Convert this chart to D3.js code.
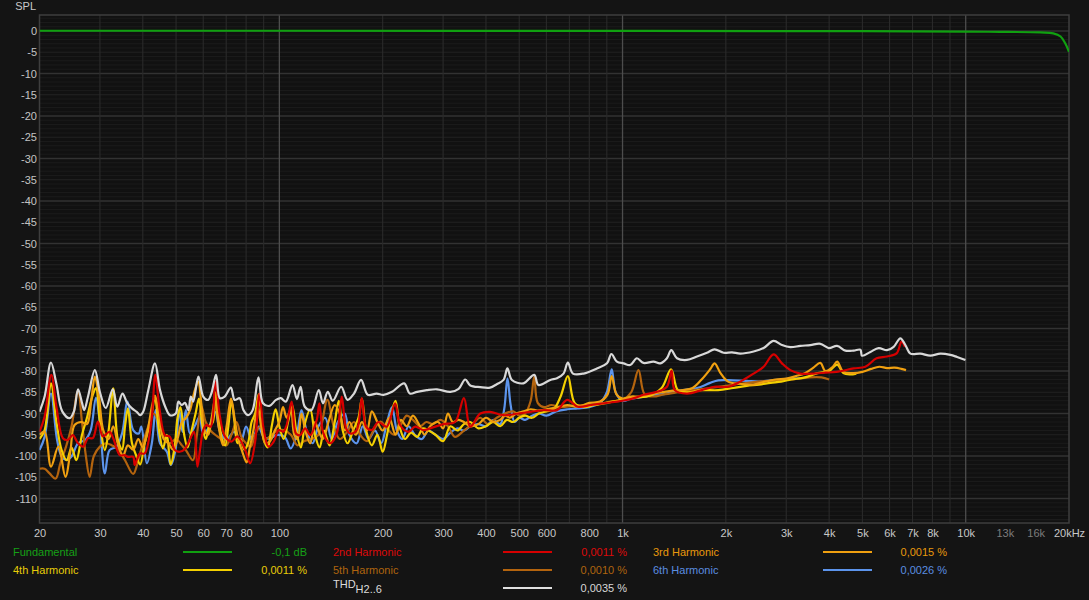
<!DOCTYPE html>
<html><head><meta charset="utf-8">
<script src="https://cdn.jsdelivr.net/npm/d3@7"></script>
<style>
html,body{margin:0;padding:0;background:#141414;}
svg{display:block;font-family:"Liberation Sans",Arial,sans-serif;}
</style></head><body>
<svg id="c" width="1089" height="600"></svg>
<script>
// ---------- axis data ----------
const xTickValues = [20,30,40,50,60,70,80,100,200,300,400,500,600,800,1000,2000,3000,4000,5000,6000,7000,8000,10000,13000,16000,20000];
const xTickLabels = ["20","30","40","50","60","70","80","100","200","300","400","500","600","800","1k","2k","3k","4k","5k","6k","7k","8k","10k","13k","16k","20kHz"];
const yTickValues = [0,-5,-10,-15,-20,-25,-30,-35,-40,-45,-50,-55,-60,-65,-70,-75,-80,-85,-90,-95,-100,-105,-110];

// ---------- series data [frequency Hz, dB] ----------
const fundamental = [[20,0.05],[100,0.05],[1000,0.02],[5000,-0.05],[10000,-0.15],[12600,-0.2],[16500,-0.35],[18000,-0.55],[18900,-1.3],[19500,-2.9],[20000,-4.9]];

const thd = [[20,-89.6],[20.7,-86],[21.6,-78.0],[22.4,-83],[23.3,-89.5],[24.5,-91.1],[25.2,-89.5],[25.9,-84.3],[26.6,-87.5],[27.0,-89.2],[27.7,-86],[29.0,-79.8],[30.0,-85],[31.2,-88.7],[32.7,-84.3],[33.7,-88.4],[34.9,-85.3],[36.0,-87.5],[37.2,-88.8],[38.4,-89.6],[39.3,-90.4],[40.1,-89.6],[41.5,-84.5],[43.4,-78.2],[44.9,-84.5],[46.5,-88.4],[48.0,-90.4],[49.9,-90.0],[50.8,-87.2],[51.9,-88],[53.1,-87.5],[54.3,-89.2],[55.2,-86.0],[56.1,-87.2],[58.1,-81.3],[60.0,-86.0],[62.0,-86.8],[63.5,-85],[65.4,-80.9],[67.1,-86.4],[69.3,-86.0],[72.2,-83.9],[74.1,-86.8],[76.6,-86.4],[78.6,-89.2],[81.1,-90.4],[83.6,-89.2],[86.9,-81.5],[89.6,-87.6],[93.6,-88.2],[97.8,-86.8],[101,-86.4],[104.4,-87.2],[109.2,-83.3],[112.5,-86.6],[115.3,-83.7],[118.6,-88.4],[124,-89.2],[130.3,-84.5],[134,-87.6],[138.4,-84.9],[143.1,-87.0],[151.4,-83.7],[158,-86.8],[165,-85.3],[173,-82.1],[181,-85.6],[192,-85.3],[201,-85.6],[213,-84.9],[231,-82.9],[240,-85.3],[252,-84.9],[269,-84.5],[288,-84.3],[315,-84.9],[333,-84.2],[348,-82.0],[360,-83.4],[385,-83.8],[411,-83.9],[430,-83.1],[450,-82.1],[462,-79.4],[476,-82.1],[514,-82.9],[553,-80.9],[569,-83.3],[616,-82.1],[644,-81.7],[673,-80.6],[693,-78.0],[717,-80.6],[770,-80.6],[842,-79.4],[901,-78.2],[928,-76.0],[963,-77.8],[1007,-78.2],[1053,-78.6],[1101,-77.0],[1151,-78.1],[1231,-77.8],[1288,-78.2],[1347,-77.0],[1387,-75.1],[1441,-77.0],[1541,-77.4],[1648,-76.6],[1762,-75.7],[1854,-74.9],[1970,-75.7],[2084,-75.6],[2203,-75.9],[2410,-75.4],[2577,-74.6],[2755,-72.9],[2915,-73.9],[3083,-74.4],[3296,-74.1],[3526,-73.9],[3771,-73.6],[3987,-74.6],[4219,-74.1],[4461,-75.2],[4716,-75.2],[4932,-75.0],[4989,-76.4],[5276,-75.5],[5578,-74.6],[5899,-75.1],[6167,-74.3],[6449,-72.3],[6672,-73.9],[6900,-75.9],[7378,-75.9],[7889,-76.4],[8437,-75.9],[9023,-76.2],[9438,-76.7],[9980,-77.4]];

const h2 = [[20,-94.3],[20.7,-90.7],[21.65,-80.9],[22.4,-88.4],[23.4,-95.8],[24.2,-96.2],[25.0,-95.1],[25.9,-97.0],[26.8,-97.8],[27.7,-95.8],[28.6,-95.8],[29.6,-91.9],[30.6,-95.4],[32.0,-94.3],[32.8,-95.8],[34.3,-99.8],[35.4,-99.8],[36.2,-100.2],[37.5,-100.2],[37.9,-102.1],[39.2,-99.4],[40.5,-99.4],[42.4,-91.5],[43.5,-80.9],[44.8,-89.2],[46.4,-95.1],[47.9,-95.4],[49.6,-98.6],[51.2,-99.0],[53.0,-98.4],[54.8,-96.2],[56.4,-94.3],[57.7,-102.5],[58.7,-98.6],[60.0,-93.9],[61.3,-92.7],[63.1,-93.1],[65.1,-82.5],[67.1,-90.7],[69.4,-95.4],[72.5,-96.6],[75.5,-95.4],[79.5,-98.6],[82.2,-101.7],[85,-96.6],[87.5,-85.3],[89.9,-93.5],[93,-97.8],[96.3,-96.6],[99.6,-93.9],[102.7,-94.3],[105,-92.7],[108.6,-87.2],[111.8,-94.7],[114.9,-95.1],[118.9,-93.5],[123,-95.1],[128.5,-91.5],[130.8,-87.6],[134.4,-94.7],[140.6,-97.0],[147,-94.7],[152,-86.0],[156.5,-93.5],[160.8,-94.7],[168,-93.9],[173.9,-86.4],[178.9,-93.1],[185.8,-93.9],[194.3,-92],[205.6,-93.1],[217.4,-87.6],[224.8,-92.7],[237.8,-94.3],[248.8,-93.1],[262.9,-93.9],[275,-93.5],[300,-92.5],[325,-92],[345,-86.4],[360,-93.1],[385,-90.0],[411,-89.6],[450,-90.4],[497,-90.0],[540,-89.6],[590,-89.2],[644,-89.2],[690,-86.8],[741,-88.4],[810,-88.0],[880,-87.6],[963,-87.2],[1000,-87],[1100,-86.2],[1150,-85.6],[1260,-84.9],[1347,-83.7],[1390,-79.9],[1420,-84.5],[1541,-85.3],[1700,-84.5],[1850,-83.7],[2030,-83.7],[2203,-82.5],[2410,-80.6],[2577,-79.0],[2755,-76.1],[2915,-78.2],[3083,-79.8],[3296,-80.6],[3600,-80.6],[3900,-80.4],[4200,-80.2],[4716,-79.4],[5100,-79.0],[5500,-77.0],[5899,-76.6],[6300,-75.8],[6500,-73.1],[6650,-74.3]];

const h3 = [[20,-95],[20.7,-94.3],[21.6,-102.5],[22.7,-97.8],[23.8,-104.9],[24.6,-99],[25.3,-92.7],[26.5,-92],[27.5,-92.5],[28.3,-87],[29.0,-81.3],[29.8,-86],[30.7,-94],[31.8,-96],[32.8,-93],[33.8,-97],[35,-100],[36.2,-97.5],[37.5,-98.5],[38.8,-96],[40,-98],[41.3,-94],[42.6,-88],[43.4,-85.8],[44.5,-90],[46,-96],[47.5,-97],[49,-98.5],[50.5,-96],[52,-92],[53.5,-91],[55,-89],[56.5,-85],[58,-82.5],[59.3,-88],[60.6,-94],[62,-95],[63.5,-91],[65,-86.5],[66.5,-93],[68.5,-97.5],[70.2,-93],[72.3,-86.5],[74,-91],[75.8,-96],[78,-99],[80.3,-101.5],[82,-98],[84,-94],[86.5,-88.5],[88.5,-93],[91,-97],[94,-96.5],[97,-94],[100,-92],[102.5,-88.5],[105,-91],[108,-89],[110.5,-95],[113,-96],[116,-90],[119,-94],[123,-97],[127,-92],[130,-94],[134,-96],[139,-92],[145,-88],[150,-90],[155,-94],[160,-92],[167,-95],[174,-92],[180,-94],[186,-89.5],[193,-92],[200,-94],[209,-91],[218,-95],[226,-91.5],[235,-93],[245,-90.5],[255,-92.5],[265,-95],[275,-93],[290,-92],[300,-93.5],[310,-90],[320,-92],[333,-91.5],[345,-92],[360,-93],[380,-92.5],[400,-91],[420,-92],[440,-91.5],[455,-90.5],[470,-91],[490,-90],[515,-89.5],[540,-89],[565,-89.3],[600,-89],[640,-88.6],[690,-88],[740,-88.4],[800,-87.5],[860,-87.2],[905,-85.5],[930,-81.2],[960,-85.5],[1000,-86.5],[1060,-86],[1120,-86],[1200,-85.5],[1300,-85],[1400,-84.6],[1500,-84.5],[1600,-84],[1700,-82],[1800,-79.6],[1855,-78.2],[1930,-80.5],[2030,-82.5],[2200,-83],[2400,-83.2],[2600,-82.5],[2800,-82],[3000,-81.8],[3200,-81.2],[3400,-80.5],[3600,-79.2],[3770,-78.1],[3900,-80],[4100,-79],[4220,-77.8],[4400,-80.2],[4700,-80.5],[5000,-80.2],[5300,-79.5],[5600,-79.0],[5900,-79.3],[6200,-79.2],[6500,-79.5],[6700,-79.8]];

const h4 = [[20,-96],[20.7,-93.9],[21.6,-82.9],[22.4,-92],[23.2,-98.6],[24,-101],[24.8,-98],[25.6,-101],[26.6,-95],[27.5,-91],[28.5,-86],[29.2,-84],[30,-92],[31,-98.6],[31.8,-94],[32.8,-84.1],[33.8,-96],[34.8,-98.5],[35.5,-93],[36.2,-88.8],[37.2,-97],[38.3,-100],[39.3,-102],[40.5,-97],[41.8,-93],[43.4,-86.8],[44.6,-94],[45.8,-98.2],[47,-95],[48.2,-102],[49.5,-98],[50.5,-91],[51.5,-88.5],[52.8,-95],[54,-98],[55.5,-94],[57,-90],[58.3,-86.5],[59.5,-92],[61,-96],[62.5,-93],[64,-92],[65.2,-85],[66.5,-90],[68,-96],[69.5,-97.5],[71,-93],[72.5,-87],[74,-92],[75.5,-97],[77,-96],[79,-98.5],[81,-97],[83,-92],[85,-90],[87,-85.5],[88.5,-90],[90,-96],[92.5,-98],[95,-93],[97.5,-89],[100,-93],[103,-96],[106,-92],[109,-88],[112,-94],[115.5,-98],[119,-92],[123,-89],[127,-95],[131,-98],[135,-94],[140,-97.5],[145,-92],[149,-87],[153,-94],[158,-97],[164,-94],[170,-91],[174,-86.5],[179,-94],[186,-97.5],[193,-95],[200,-99],[206,-95],[212,-90],[218,-87],[224,-93],[232,-96],[242,-94.5],[252,-95.5],[262,-93.5],[272,-94],[285,-95],[300,-96.5],[315,-93],[330,-94],[345,-92.5],[360,-92],[380,-93.5],[400,-93],[420,-92],[440,-93],[460,-91.5],[480,-92],[500,-91],[520,-90.5],[545,-91],[570,-90],[600,-89.5],[630,-89],[660,-86],[693,-81.2],[725,-87.5],[770,-88.5],[830,-88],[900,-87.5],[960,-87],[1020,-86.5],[1100,-86.2],[1200,-85.8],[1300,-84],[1385,-79.6],[1450,-84.5],[1550,-85],[1700,-84.5],[1900,-84.5],[2100,-84],[2300,-83.5],[2500,-83.2],[2700,-82.8],[2900,-82.5],[3100,-82],[3400,-81.5],[3700,-80.5],[4000,-80],[4220,-78.5],[4400,-80.5],[4600,-80.8],[4800,-80.6]];

const h5 = [[20,-103],[20.7,-103],[21.4,-104.1],[22.3,-105.3],[23.0,-101.7],[23.9,-97.8],[24.8,-93],[25.9,-84.7],[26.6,-92],[27.3,-100],[28.0,-104.9],[28.8,-100],[30,-97.8],[31.2,-97],[32.5,-97.5],[34,-98.5],[35.5,-101],[37.5,-104.2],[38.8,-101],[40,-97],[41.5,-93],[43,-90],[44.5,-92],[46,-95.5],[48,-97],[50,-96],[52,-97.5],[53.4,-98.6],[56,-101],[57.5,-95],[59.3,-88.4],[61,-92],[63,-94],[65,-95],[67.5,-96],[70,-97.5],[72.5,-95],[75,-92],[77.5,-95.5],[80,-97],[82.5,-97.8],[85,-95],[88,-93],[91,-96],[95,-95],[99,-94],[103,-93.9],[108,-95],[113,-97.5],[118,-96.5],[124,-96],[130,-95],[138,-86.8],[144,-93],[150,-96],[157,-94.5],[165,-92],[172,-95],[180,-96.5],[188,-94],[197,-91.9],[206,-93.5],[216,-95],[225,-93],[235,-90.5],[245,-91.5],[257,-93],[268,-92],[280,-92.5],[295,-91.5],[310,-93],[325,-95.5],[345,-94],[365,-92.5],[385,-91],[405,-92.5],[430,-91],[455,-90],[480,-89.5],[500,-90.5],[520,-90],[540,-87],[553,-81.3],[566,-87.5],[590,-88.5],[620,-88],[660,-88.5],[720,-88.2],[780,-88],[850,-87.8],[920,-87.2],[1000,-86.8],[1060,-85],[1113,-79.8],[1160,-85.5],[1230,-86],[1320,-85.5],[1450,-85],[1600,-84.5],[1800,-84],[2000,-83.5],[2200,-83],[2500,-82.5],[2800,-82.2],[3100,-82],[3500,-81.5],[3800,-81.5],[4000,-82]];

const h6 = [[20,-98.6],[20.7,-95.5],[21.6,-85.3],[22.5,-96.2],[23.2,-100.1],[23.9,-100.9],[24.8,-100.1],[25.9,-97],[27.2,-96.2],[28.2,-93.9],[29.2,-86.3],[30.0,-92.4],[31.0,-104.1],[32.0,-98.6],[33.5,-97.8],[34.8,-94.7],[36.1,-87.2],[37.5,-93.9],[38.9,-94.7],[39.6,-93.1],[41.1,-101.7],[42.5,-97],[43.6,-89.2],[44.9,-97],[47.0,-99],[48.3,-102.1],[49.8,-98.6],[51.1,-89.2],[52.2,-94.3],[53.4,-89.2],[54.9,-94.7],[56.9,-92.7],[58.6,-90.7],[60,-94.7],[62.1,-93.5],[65,-89.6],[67.2,-94.3],[70,-96.2],[73.8,-94.3],[77.2,-96.6],[80,-93.1],[83.1,-96.2],[87,-93.1],[90,-95.5],[94,-95.9],[97.8,-95.1],[103.6,-95.5],[107.9,-98.2],[112.5,-94.7],[116,-89.2],[120,-94],[125,-97],[130,-93],[136,-91],[142,-96],[148,-92],[155,-90],[160,-95],[168,-97],[175,-93],[182,-96],[190,-94],[198,-97],[206,-92],[213,-88.5],[220,-94],[228,-96],[238,-93],[248,-95],[260,-96],[272,-94],[285,-95],[300,-96],[315,-94.5],[330,-93.5],[345,-94],[360,-93],[380,-92.5],[400,-93],[420,-91.5],[440,-92.5],[452,-89],[462,-81.7],[472,-88],[485,-92],[500,-91],[520,-91.5],[545,-90.5],[570,-90],[600,-90.5],[640,-89.5],[690,-89],[740,-88.8],[800,-88.5],[860,-87.5],[900,-85],[930,-79.6],[955,-85],[1000,-87],[1060,-86.5],[1120,-86.2],[1200,-85.8],[1300,-85.5],[1400,-85],[1500,-84.5],[1650,-84],[1800,-82.8],[1900,-82.2],[2100,-82.2],[2300,-82.3],[2500,-82.5],[2700,-82.2],[2900,-82],[3100,-81.8],[3300,-81.7]];

// legend values
const legendNames = ["Fundamental","2nd Harmonic","3rd Harmonic","4th Harmonic","5th Harmonic","6th Harmonic","THD"];
const legendValues = ["-0,1 dB","0,0011 %","0,0015 %","0,0011 %","0,0010 %","0,0026 %","0,0035 %"];

// ---------- drawing ----------
const svg = d3.select("#c");
const W = 1089, H = 600;
const plot = {l:39.5, r:1069, t:15, b:523};
svg.append("rect").attr("width",W).attr("height",H).attr("fill","#141414");

const x = d3.scaleLog().domain([20,20000]).range([plot.l, plot.r]);
const y = d3.scaleLinear().domain([3.76,-115.76]).range([plot.t, plot.b]);

svg.append("rect").attr("x",plot.l).attr("y",plot.t).attr("width",plot.r-plot.l).attr("height",plot.b-plot.t).attr("fill","#111111");

const grid = svg.append("g");
for (let v = 3; v >= -115; v--) {
  const major = v % 10 === 0;
  const mid = v % 5 === 0;
  grid.append("line").attr("x1",plot.l).attr("x2",plot.r).attr("y1",y(v)).attr("y2",y(v))
    .attr("stroke", major ? "#323232" : (mid ? "#222222" : "#1b1b1b")).attr("stroke-width", major ? 1.3 : 1);
}
[10,100,1000,10000].forEach(dec => {
  for (let m = 1; m <= 9; m++) {
    const f = dec*m;
    if (f <= 20 || f >= 20000) continue;
    const major = (m === 1);
    grid.append("line").attr("x1",x(f)).attr("x2",x(f)).attr("y1",plot.t).attr("y2",plot.b)
      .attr("stroke", major ? "#4d4d4d" : "#2a2a2a").attr("stroke-width", major ? 1.3 : 1.1);
  }
});
svg.append("rect").attr("x",plot.l).attr("y",plot.t).attr("width",plot.r-plot.l).attr("height",plot.b-plot.t)
  .attr("fill","none").attr("stroke","#3e3e3e").attr("stroke-width",1.5);

const xAxis = d3.axisBottom(x).tickValues(xTickValues).tickFormat((d,i)=>xTickLabels[i]).tickSize(0).tickPadding(0);
const gx = svg.append("g").attr("transform",`translate(0,${plot.b+6})`).call(xAxis);
gx.select(".domain").remove();
gx.selectAll("text").attr("font-size","11px").attr("font-family","Liberation Sans, Arial, sans-serif")
  .attr("fill",(d)=> (d===13000||d===16000) ? "#7c7c7c" : "#c8c8c8").attr("dy","0.71em");

const yAxis = d3.axisLeft(y).tickValues(yTickValues).tickFormat(d=>String(d)).tickSize(0).tickPadding(0);
const gy = svg.append("g").attr("transform",`translate(${plot.l-2.5},0)`).call(yAxis);
gy.select(".domain").remove();
gy.selectAll("text").attr("font-size","11px").attr("font-family","Liberation Sans, Arial, sans-serif").attr("fill","#c4c4c4");

svg.append("text").attr("x",36).attr("y",10).attr("text-anchor","end").attr("font-size","11px").attr("fill","#c8c8c8").text("SPL");

svg.append("clipPath").attr("id","clip").append("rect").attr("x",plot.l).attr("y",plot.t).attr("width",plot.r-plot.l).attr("height",plot.b-plot.t);
const lines = svg.append("g").attr("clip-path","url(#clip)");
const line = d3.line().x(d=>x(d[0])).y(d=>y(d[1])).curve(d3.curveCatmullRom.alpha(0.5));

const series = [
  {data:h6, color:"#5c94ec"},
  {data:h5, color:"#b4640e"},
  {data:h4, color:"#f4d000"},
  {data:h3, color:"#f0a010"},
  {data:h2, color:"#d60000"},
  {data:thd, color:"#d8d8d8"},
  {data:fundamental, color:"#10a010"}
];
series.forEach(s => {
  lines.append("path").datum(s.data).attr("d",line).attr("fill","none")
    .attr("stroke",s.color).attr("stroke-width",2.2).attr("stroke-linejoin","round");
});

const legendColors = ["#16a016","#dd0a0a","#e8980c","#e8cc08","#b0640e","#5b8ee0","#d8d8d8"];
const lineColors   = ["#10a010","#d60000","#f0a010","#f4d000","#b4640e","#5c94ec","#e0e0e0"];
const cols = [{tx:13, lx1:183, lx2:232, vx:307},{tx:333, lx1:503, lx2:552, vx:627},{tx:653, lx1:823, lx2:872, vx:947}];
const rows = [552, 570, 588];
const pos = [[0,0],[0,1],[0,2],[1,0],[1,1],[1,2],[2,1]];
const lg = svg.append("g").attr("font-size","11px");
legendNames.forEach((name,i) => {
  const [r,c] = pos[i];
  const cy = rows[r], col = cols[c];
  if (name === "THD") {
    const t = lg.append("text").attr("x",col.tx).attr("y",cy).attr("fill","#dcdcdc");
    t.append("tspan").text("THD");
    t.append("tspan").attr("dy",5).text("H2..6");
  } else {
    lg.append("text").attr("x",col.tx).attr("y",cy+4).attr("fill",legendColors[i]).text(name);
  }
  lg.append("line").attr("x1",col.lx1).attr("x2",col.lx2).attr("y1",cy).attr("y2",cy)
    .attr("stroke",lineColors[i]).attr("stroke-width",2);
  lg.append("text").attr("x",col.vx).attr("y",cy+4).attr("text-anchor","end").attr("fill",legendColors[i]).text(legendValues[i]);
});
</script>
</body></html>
